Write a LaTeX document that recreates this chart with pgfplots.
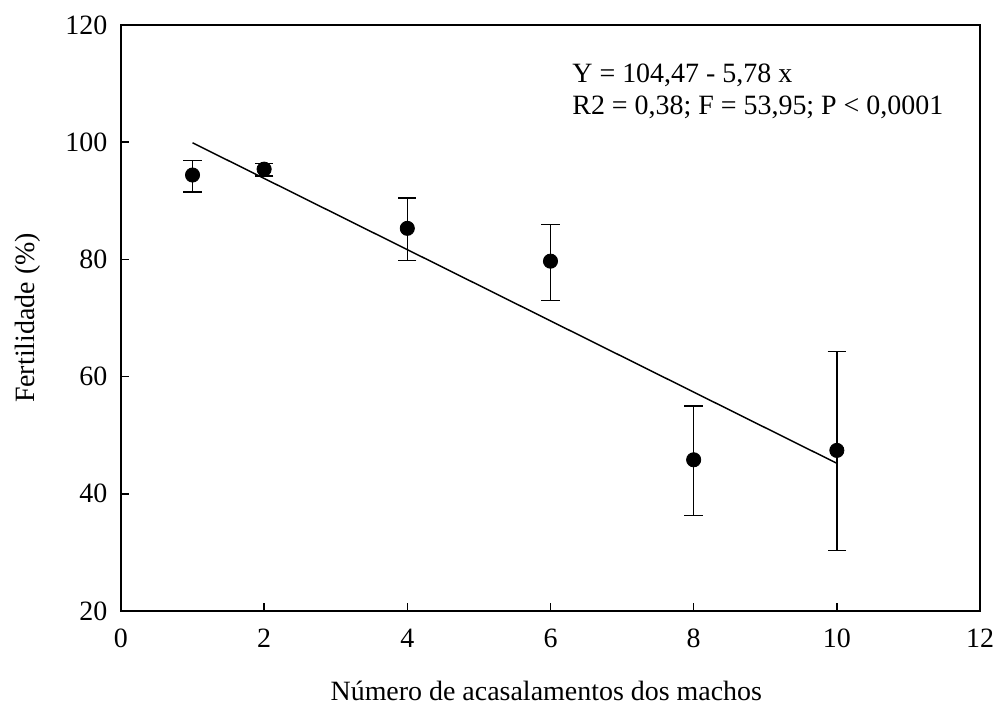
\documentclass[border=0pt]{standalone}
\usepackage{pgfplots}
\pgfplotsset{compat=1.18}
\usepackage{fontspec}
\setmainfont{Liberation Serif}

\begin{document}
\begin{tikzpicture}
\begin{axis}[
    width=412pt, height=281pt,
    scale only axis,
    xmin=0, xmax=12, ymin=20, ymax=120,
    xtick={0,2,...,12}, ytick={20,40,...,120},
    tick pos=left, tick align=inside,
    major tick length=4pt,
    axis line style={line width=0.9pt},
    every tick/.style={line width=0.7pt, black},
    font=\fontsize{13.4}{15}\selectfont,
    /pgf/number format/assume math mode=true,
    xticklabel style={yshift=-5pt},
    yticklabel style={xshift=-3pt},
    xlabel={Número de acasalamentos dos machos},
    ylabel={Fertilidade (\%)},
    xlabel style={at={(rel axis cs:0.5,0)}, anchor=base, yshift=-43pt, xshift=-2pt},
    ylabel style={at={(rel axis cs:0,0.5)}, anchor=center, yshift=44.6pt},
    clip=false,
]
% medias com barras de erro
\addplot[
    only marks, mark=*, mark size=3.4pt, black,
    error bars/.cd,
        y dir=both, y explicit,
        error bar style={line width=0.7pt},
        error mark options={rotate=90, mark size=4.4pt, line width=0.7pt}
] table [y error plus=ep, y error minus=em] {
x   y     ep    em
1   94.4  2.5   2.9
2   95.4  1.0   1.2
4   85.3  5.2   5.5
6   79.7  6.3   6.7
8   45.8  9.2   9.5
10  47.4  16.9  17.1
};
% reta ajustada
\addplot[black, line width=0.7pt] coordinates {(1,99.9) (10,45.2)};

\node[anchor=north west, align=left, inner sep=0pt,
      font=\fontsize{13.4}{15.2}\selectfont]
    at (axis cs:6.30,113.45)
    {Y = 104,47 - 5,78 x\\R2 = 0,38; F = 53,95; P < 0,0001};

\coordinate (sw) at (rel axis cs:0,0);
\coordinate (ne) at (rel axis cs:1,1);
\end{axis}
\pgfresetboundingbox
\path ([shift={(-58pt,-47.5pt)}]sw) rectangle ([shift={(6.7pt,12pt)}]ne);
\end{tikzpicture}
\end{document}
